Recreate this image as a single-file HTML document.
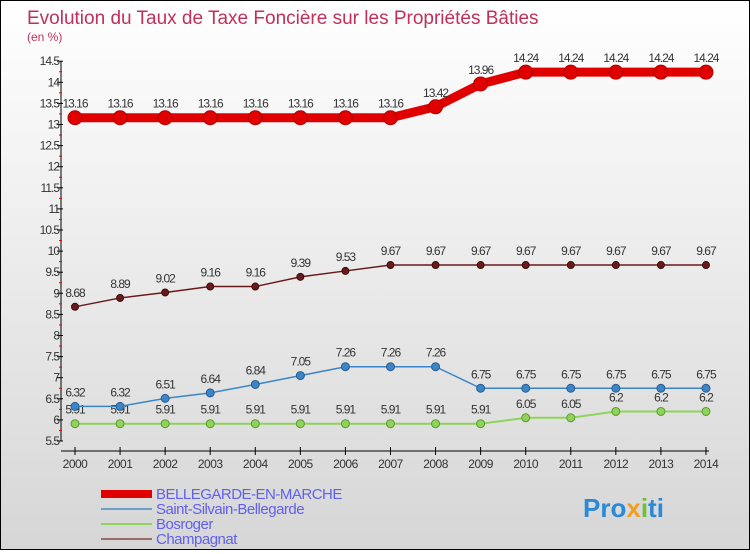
<!DOCTYPE html>
<html><head><meta charset="utf-8"><style>
body{margin:0}
#c{width:748px;height:548px;border:1px solid #000;background:linear-gradient(#fff,#d6d6d6);position:relative;font-family:"Liberation Sans",sans-serif}
</style></head><body>
<div id="c">
<svg id="s" width="748" height="548"></svg>
</div>
<script>
const years=[2000,2001,2002,2003,2004,2005,2006,2007,2008,2009,2010,2011,2012,2013,2014];
const bellegarde=[13.16,13.16,13.16,13.16,13.16,13.16,13.16,13.16,13.42,13.96,14.24,14.24,14.24,14.24,14.24];
const saintSilvain=[6.32,6.32,6.51,6.64,6.84,7.05,7.26,7.26,7.26,6.75,6.75,6.75,6.75,6.75,6.75];
const bosroger=[5.91,5.91,5.91,5.91,5.91,5.91,5.91,5.91,5.91,5.91,6.05,6.05,6.2,6.2,6.2];
const champagnat=[8.68,8.89,9.02,9.16,9.16,9.39,9.53,9.67,9.67,9.67,9.67,9.67,9.67,9.67,9.67];
const yTicks=[5.5,6,6.5,7,7.5,8,8.5,9,9.5,10,10.5,11,11.5,12,12.5,13,13.5,14,14.5];
const NS='http://www.w3.org/2000/svg';
const s=document.getElementById('s');
const X=i=>74+i*45.07, Y=v=>440-(v-5.5)*42.2;
function mk(t,a,p){const e=document.createElementNS(NS,t);for(const k in a)e.setAttribute(k,a[k]);(p||s).appendChild(e);return e;}
let t=mk('text',{x:26,y:23,fill:'#c0305a','font-size':19});t.textContent='Evolution du Taux de Taxe Foncière sur les Propriétés Bâties';


t=mk('text',{x:26,y:40,fill:'#c0305a','font-size':12});t.textContent='(en %)';


const ax=mk('g',{});


mk('line',{x1:60,y1:Y(14.5),x2:60,y2:Y(5.5),stroke:'#000'},ax);
yTicks.forEach((v,i)=>{
 mk('line',{x1:56,x2:62,y1:Y(v),y2:Y(v),stroke:'#000'},ax);
 if(i<yTicks.length-1)mk('line',{x1:58,x2:61,y1:Y(v+0.25),y2:Y(v+0.25),stroke:'#e00'},ax);
 const l=mk('text',{x:58,y:Y(v)+4,'text-anchor':'end','font-size':12,fill:'#333','letter-spacing':'-1'},ax);l.textContent=v;
 
 
});
const xa=mk('g',{});


mk('line',{x1:60,x2:708,y1:450,y2:450,stroke:'#000'},xa);
years.forEach((yr,i)=>{
 mk('line',{x1:X(i),x2:X(i),y1:446,y2:454,stroke:'#000'},xa);
 const l=mk('text',{x:X(i),y:467,'text-anchor':'middle','font-size':12,fill:'#333','letter-spacing':'-0.5'},xa);l.textContent=yr;
 
 
});
function series(name,data,color,dot,w,r){
 const g=mk('g',{});
 
 
 mk('polyline',{points:data.map((v,i)=>X(i)+','+Y(v)).join(' '),fill:'none',stroke:color,'stroke-width':w},g);
 data.forEach((v,i)=>{
  const c=mk('circle',{cx:X(i),cy:Y(v),r:r,fill:color,stroke:dot,'stroke-width':1},g);
  
  
  const l=mk('text',{x:X(i),y:Y(v)-10,'text-anchor':'middle','font-size':12,fill:'#333','letter-spacing':'-1'},g);l.textContent=v;
  
  
 });
}
series('series-bosroger',bosroger,'#8fd45a','#5a9a30',2,4);
series('series-saint-silvain',saintSilvain,'#3a86c8','#2a5a8a',1.5,4);
series('series-champagnat',champagnat,'#6a1a1a','#3a0a0a',1.5,3.5);
series('series-bellegarde',bellegarde,'#e00000','#b00000',9,7);
const lg=mk('g',{});


[['BELLEGARDE-EN-MARCHE','#e00000',8],['Saint-Silvain-Bellegarde','#6aa0cc',2],['Bosroger','#8fd45a',2],['Champagnat','#9a6a6a',2]].forEach((e,i)=>{
 const y=493+i*15;
 mk('line',{x1:100,x2:151,y1:y,y2:y,stroke:e[1],'stroke-width':e[2]},lg);
 const l=mk('text',{x:155,y:y+5,'font-size':15,fill:'#6060f0','letter-spacing':'-0.5'},lg);l.textContent=e[0];
 
 
});
t=mk('text',{x:582,y:516,'font-size':26,'font-weight':'bold',fill:'#2a8ad8'});
t.innerHTML='Pro<tspan fill="#f0a020">x</tspan><tspan fill="#70c030">i</tspan>ti';


</script>
</body></html>
